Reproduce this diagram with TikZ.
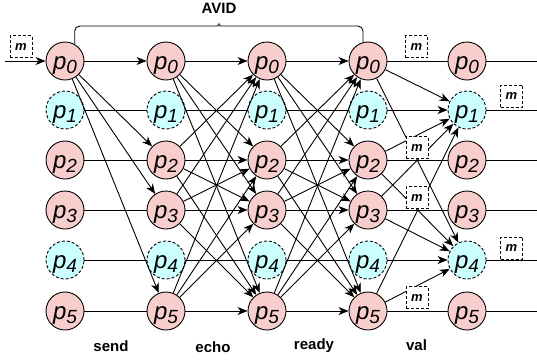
\documentclass[tikz,border=0pt]{standalone}
\usepackage{fontspec}
\setmainfont{Liberation Sans}
\usetikzlibrary{arrows.meta}

\definecolor{okfill}{HTML}{F8CECC}
\definecolor{slowfill}{HTML}{CCFFFF}
\newcommand{\proc}[1]{{\fontsize{24}{24}\selectfont\itshape p\raisebox{-4pt}{\fontsize{19}{19}\selectfont #1}}}

\tikzset{
  pnode/.style={circle,draw,minimum size=38pt,inner sep=0pt,line width=0.9pt,
    text height=16.5pt,text depth=0pt},
  good/.style={pnode,fill=okfill},
  slow/.style={pnode,fill=slowfill,dash pattern=on 3pt off 2pt},
  msg/.style={draw,fill=white,dash pattern=on 3pt off 2pt,line width=0.9pt,
    minimum size=22pt,inner sep=0pt,font=\fontsize{13}{13}\selectfont\bfseries\itshape},
  arr/.style={-{Stealth[length=10pt,width=8pt,inset=3pt]},line width=0.9pt},
  wire/.style={line width=0.9pt},
  phase/.style={font=\fontsize{15}{15}\selectfont\bfseries}
}

\begin{document}
\begin{tikzpicture}[x=1pt,y=-1pt]
\useasboundingbox (0,0) rectangle (537,360);

% processes, one column per phase
\foreach \c/\x in {a/65,b/166,c/267,d/368,e/467}{
  \foreach \i/\y in {0/61,2/160,3/210,5/311}
    \node[good] (\c\i) at (\x,\y) {\proc{\i}};
  \foreach \i/\y in {1/110,4/260}
    \node[slow] (\c\i) at (\x,\y) {\proc{\i}};
}

\coordinate (in) at (5,61);
\foreach \i/\y in {0/61,1/110,2/160,3/210,4/260,5/311}
  \coordinate (r\i) at (537,\y);

% input
\draw[arr] (in) -- (a0);

% send
\foreach \j in {0,2,3,5}
  \draw[arr] (a0) -- (b\j);
\foreach \i in {1,...,5}
  \draw[wire] (a\i) -- (b\i);

% echo and ready
\foreach \i in {0,2,3,5}
  \foreach \j in {0,2,3,5}{
    \draw[arr] (b\i) -- (c\j);
    \draw[arr] (c\i) -- (d\j);
  }
\foreach \i in {1,4}{
  \draw[wire] (b\i) -- (c\i);
  \draw[wire] (c\i) -- (d\i);
}

% val
\foreach \i in {0,2,3,5}{
  \draw[wire] (d\i) -- (e\i);
  \foreach \j in {1,4}
    \draw[arr] (d\i) -- (e\j);
}
\draw[arr] (d1) -- (e1);
\draw[arr] (d4) -- (e4);

\foreach \i in {0,...,5}
  \draw[wire] (e\i) -- (r\i);

% messages
\node[msg] (m0) at (21,46.5) {m};
\node[msg] (m1) at (416.5,46.5) {m};
\node[msg] (m2) at (417,147.5) {m};
\node[msg] (m3) at (417,197.5) {m};
\node[msg] (m4) at (417,297.5) {m};
\node[msg] (m5) at (511.5,96) {m};
\node[msg] (m6) at (511.5,248) {m};

% AVID brace
\draw[wire,rounded corners=5pt] (a0.60) |- (213,26)
  .. controls (217,26) and (219,24) .. (219,20)
  .. controls (219,24) and (221,26) .. (225,26) -| (d0.105);
\node[phase] (avid) at (219,8) {AVID};

% phase labels
\node[phase] (lsend) at (111,346) {send};
\node[phase] (lecho) at (213,347.5) {echo};
\node[phase] (lready) at (314,346) {ready};
\node[phase] (lval) at (416.5,345) {val};
\end{tikzpicture}
\end{document}
